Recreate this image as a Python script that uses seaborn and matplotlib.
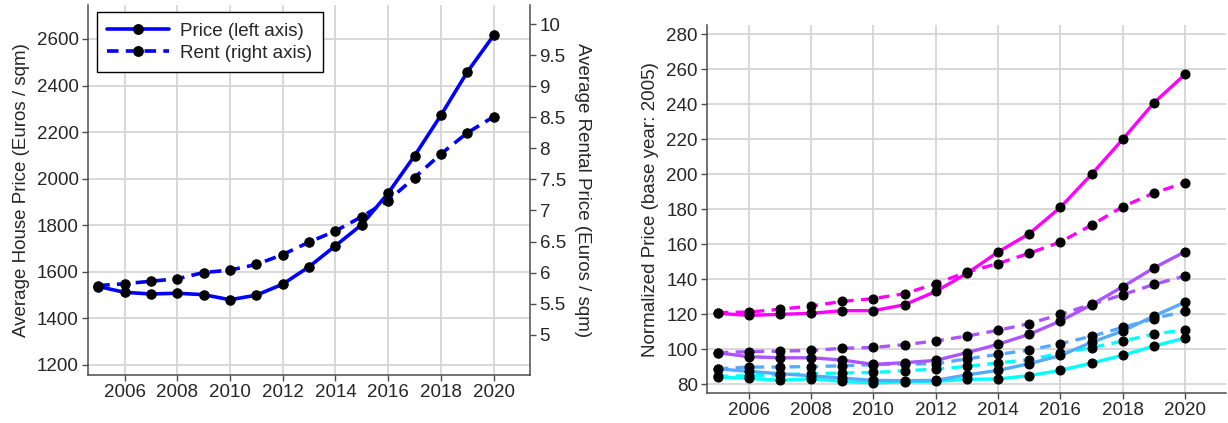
import numpy as np
import pandas as pd
import matplotlib
matplotlib.use("Agg")
import matplotlib.pyplot as plt
import seaborn as sns
from matplotlib.lines import Line2D

# ---------------- data ----------------
years = list(range(2005, 2021))

price = [1537, 1512, 1505, 1508, 1502, 1480, 1500, 1547, 1622, 1712,
         1803, 1938, 2098, 2272, 2458, 2615]
rent = [5.79, 5.82, 5.86, 5.90, 6.00, 6.04, 6.13, 6.29, 6.49, 6.67,
        6.90, 7.16, 7.53, 7.91, 8.25, 8.51]

# normalized series (base year 2005), four groups, price (solid) and rent (dashed)
g4_price = [120.6, 119.4, 120.0, 120.6, 122.1, 122.1, 125.5, 133.1, 143.4, 155.6,
            166.1, 181.1, 200.0, 220.0, 240.8, 257.1]
g4_rent = [121.0, 121.3, 122.9, 124.8, 127.4, 129.0, 131.8, 137.5, 144.2, 149.0,
           154.9, 161.3, 171.0, 181.5, 189.3, 195.2]
g3_price = [98.1, 95.8, 95.2, 95.2, 93.9, 91.4, 92.4, 93.7, 98.1, 102.9,
            108.6, 116.2, 125.5, 135.8, 146.5, 155.8]
g3_rent = [98.1, 98.7, 99.0, 99.4, 100.6, 101.1, 102.7, 104.8, 107.6, 110.9,
           114.7, 120.0, 125.7, 131.2, 137.1, 141.9]
g2_price = [88.9, 87.4, 86.1, 84.9, 83.6, 82.3, 82.1, 82.3, 85.4, 88.0,
            91.8, 96.5, 104.0, 110.5, 119.0, 127.0]
g2_rent = [88.9, 89.9, 89.9, 90.2, 90.6, 91.3, 91.6, 91.8, 94.6, 97.1,
           99.6, 103.3, 107.5, 112.5, 117.5, 121.9]
g1_price = [84.2, 83.4, 82.3, 83.2, 81.7, 80.8, 81.5, 81.7, 82.9, 83.1,
            85.0, 88.0, 92.2, 96.6, 101.9, 106.5]
g1_rent = [84.6, 84.9, 85.5, 86.1, 86.5, 86.8, 87.8, 88.7, 90.3, 92.2,
           94.2, 97.7, 101.0, 104.7, 108.7, 111.2]

left_yticks = [1200, 1400, 1600, 1800, 2000, 2200, 2400, 2600]
rent_yticks = [5, 5.5, 6, 6.5, 7, 7.5, 8, 8.5, 9, 9.5, 10]
rent_ticklabels = ["5", "5.5", "6", "6.5", "7", "7.5", "8", "8.5", "9", "9.5", "10"]
right_yticks = [80, 100, 120, 140, 160, 180, 200, 220, 240, 260, 280]
xticks = [2006, 2008, 2010, 2012, 2014, 2016, 2018, 2020]

# ---------------- style ----------------
sns.set_style("white")
plt.rcParams["font.family"] = ["Liberation Sans", "DejaVu Sans"]
FS = 13.5
plt.rcParams["font.size"] = FS

spine_col = "#4d4d4d"
grid_col = "#d6d6d6"
black = "black"

fig = plt.figure(figsize=(12.28, 4.23), dpi=100)
ax1 = fig.add_axes([0.0714, 0.1135, 0.3606, 0.8747])
ax3 = fig.add_axes([0.5755, 0.0702, 0.4225, 0.8708])

# ---------------- left panel ----------------
df_left = pd.DataFrame({"year": years, "price": price, "rent": rent})
lw = 2.6
ms = 6.8
dash = (0, (3.2, 2.0))
sns.lineplot(data=df_left, x="year", y="price", ax=ax1, color="#0000ff", lw=lw,
             marker="o", markersize=ms, markerfacecolor=black, markeredgecolor=black,
             zorder=3)
ax2 = ax1.twinx()
sns.lineplot(data=df_left, x="year", y="rent", ax=ax2, color="#0000ff", lw=lw,
             linestyle=dash, marker="o", markersize=ms,
             markerfacecolor=black, markeredgecolor=black, zorder=3)

ax1.set_xlim(2004.6, 2021.4)
ax1.set_ylim(1157, 2746)
ax2.set_ylim(4.35, 10.31)
ax1.set_xticks(xticks)
ax1.set_yticks(left_yticks)
ax2.set_yticks(rent_yticks)
ax2.set_yticklabels(rent_ticklabels)
ax1.grid(True, color=grid_col, lw=1.3, zorder=0)
ax1.set_axisbelow(True)
ax1.set_xlabel("")
ax1.set_ylabel("Average House Price (Euros / sqm)", fontsize=FS, labelpad=5)
ax2.set_xlabel("")
ax2.set_ylabel("Average Rental Price (Euros / sqm)", fontsize=FS, rotation=270,
               labelpad=18)

for a in (ax1, ax2):
    a.spines["top"].set_visible(False)
    for s in ("left", "bottom", "right"):
        a.spines[s].set_color(spine_col)
        a.spines[s].set_linewidth(1.1)
ax1.spines["right"].set_visible(False)
ax2.spines["left"].set_visible(False)
ax2.spines["bottom"].set_visible(False)
ax1.tick_params(axis="both", direction="out", length=4.5, width=1.0, color=spine_col,
                labelsize=FS, pad=2)
ax1.tick_params(axis="y", left=True)
ax1.tick_params(axis="x", bottom=True)
ax2.tick_params(axis="y", direction="out", length=4.5, width=1.0, color=spine_col,
                labelsize=FS, pad=2, right=True)

handles = [
    Line2D([0], [0], color="#0000ff", lw=lw, marker="o", markersize=ms,
           markerfacecolor=black, markeredgecolor=black),
    Line2D([0], [0], color="#0000ff", lw=lw, linestyle=dash, marker="o",
           markersize=ms, markerfacecolor=black, markeredgecolor=black),
]
if ax1.get_legend() is not None:
    ax1.get_legend().remove()
leg = ax2.legend(handles, ["Price (left axis)", "Rent (right axis)"], loc="upper left",
                 bbox_to_anchor=(0.012, 0.99), fontsize=FS, frameon=True,
                 fancybox=False, framealpha=1, edgecolor="black", handlelength=3.3,
                 borderpad=0.55, labelspacing=0.25, handletextpad=0.6,
                 borderaxespad=0.2)
leg.get_frame().set_linewidth(1.0)

# ---------------- right panel ----------------
cmap = plt.get_cmap("cool")
groups = [
    ("group 1", g1_price, g1_rent, cmap(0.0)),
    ("group 2", g2_price, g2_rent, cmap(1 / 3)),
    ("group 3", g3_price, g3_rent, cmap(2 / 3)),
    ("group 4", g4_price, g4_rent, cmap(1.0)),
]
rows = []
for name, p, r, c in groups:
    for y, v in zip(years, p):
        rows.append({"year": y, "value": v, "group": name, "kind": "price"})
    for y, v in zip(years, r):
        rows.append({"year": y, "value": v, "group": name, "kind": "rent"})
df_right = pd.DataFrame(rows)

lw2 = 2.4
ms2 = 6.5
for name, p, r, c in groups:
    for kind, ls in (("price", "-"), ("rent", (0, (3.2, 2.2)))):
        sub = df_right[(df_right.group == name) & (df_right.kind == kind)]
        sns.lineplot(data=sub, x="year", y="value", ax=ax3, color=c, lw=lw2,
                     linestyle=ls, marker="o", markersize=ms2,
                     markerfacecolor=black, markeredgecolor=black, zorder=3)

ax3.set_xlim(2004.65, 2021.3)
ax3.set_ylim(74.9, 285.3)
ax3.set_xticks(xticks)
ax3.set_yticks(right_yticks)
ax3.grid(True, color=grid_col, lw=1.3, zorder=0)
ax3.set_axisbelow(True)
ax3.set_xlabel("")
ax3.set_ylabel("Normalized Price (base year: 2005)", fontsize=FS, labelpad=5)
ax3.spines["top"].set_visible(False)
ax3.spines["right"].set_visible(False)
for s in ("left", "bottom"):
    ax3.spines[s].set_color(spine_col)
    ax3.spines[s].set_linewidth(1.1)
ax3.tick_params(axis="both", direction="out", length=4.5, width=1.0, color=spine_col,
                labelsize=FS, pad=2, left=True, bottom=True)
if ax3.get_legend() is not None:
    ax3.get_legend().remove()

fig.savefig("out.png", dpi=100)
